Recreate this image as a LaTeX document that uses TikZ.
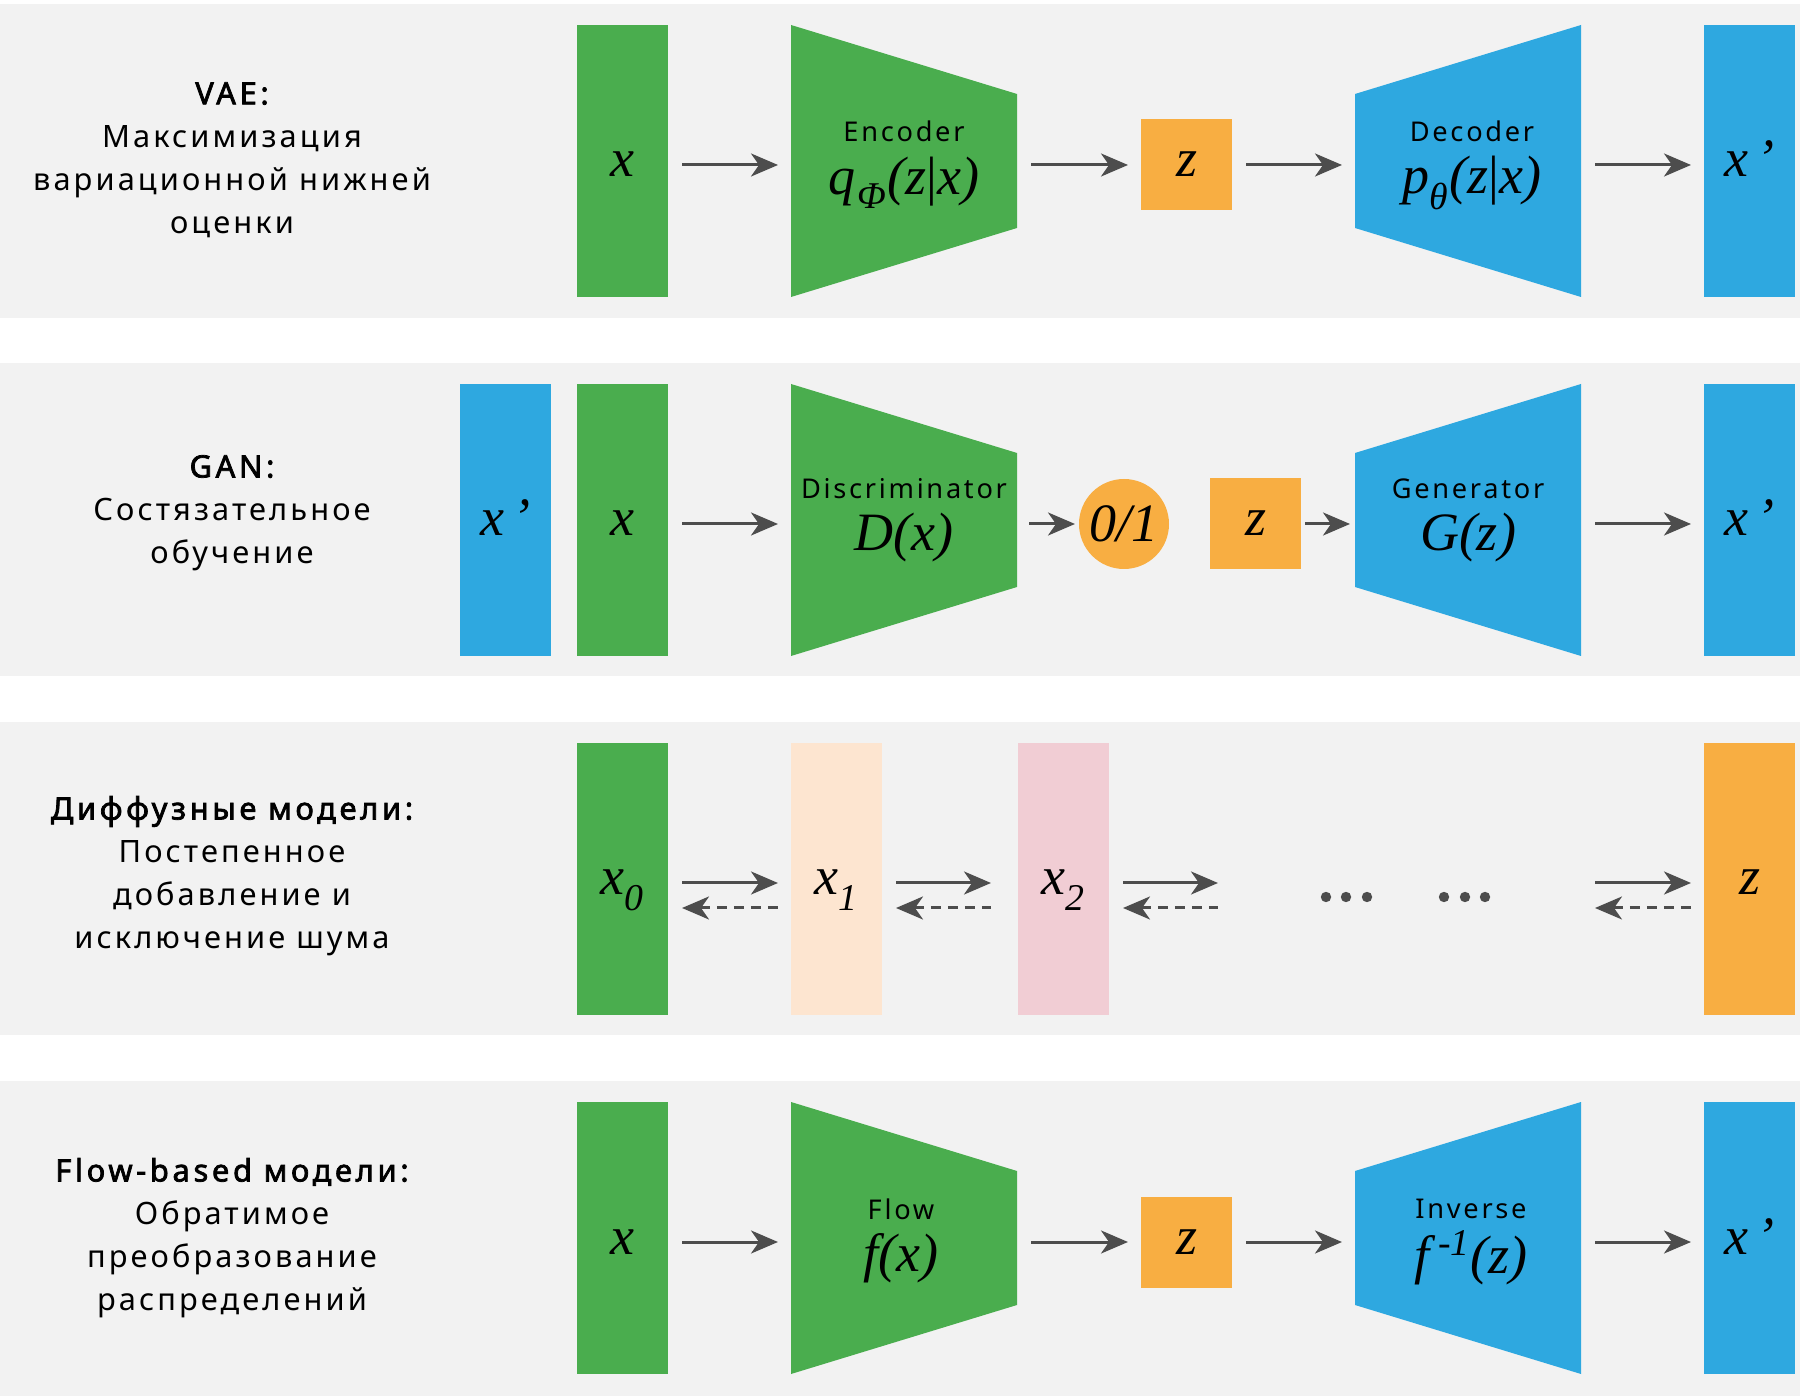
\documentclass[tikz,border=0pt]{standalone}
\usepackage{fontspec}
\setmainfont{Noto Sans}[LetterSpace=10]
\newfontfamily\titlefont{Noto Sans}[FakeBold=2.4, LetterSpace=12]
\newfontfamily\serif{Liberation Serif}
\usetikzlibrary{arrows.meta,positioning,calc}
\definecolor{cgreen}{HTML}{4AAD4E}
\definecolor{cblue}{HTML}{2EA8E0}
\definecolor{corange}{HTML}{F8AE42}
\definecolor{cpeach}{HTML}{FDE5D0}
\definecolor{cpink}{HTML}{F1CDD4}
\definecolor{cband}{HTML}{F2F2F2}
\definecolor{carrow}{HTML}{4D4D4D}
\newcommand\frmfont{\fontsize{27}{30}\serif\itshape}
\newcommand\hd[1]{{\titlefont #1}}
\tikzset{
    band/.style={fill=cband},
    bar/.style={minimum width=45.5pt, minimum height=136pt, inner sep=0pt, outer sep=0pt, font=\frmfont,
        text height=16pt, text depth=0pt},
    sq/.style={minimum size=45.5pt, inner sep=0pt, outer sep=0pt, fill=corange, font=\frmfont,
        text height=12pt, text depth=0pt},
    trap/.style={minimum width=113pt, minimum height=136pt, inner sep=0pt, outer sep=0pt},
    lbl/.style={font=\fontsize{13.6}{15}\selectfont, inner sep=0pt},
    fml/.style={font=\frmfont, inner sep=0pt},
    title/.style={align=center, font=\fontsize{15.4}{21.5}\selectfont},
    tip/.style={-{Stealth[length=13.5pt, width=11.5pt, inset=4pt]}},
    arr/.style={draw=carrow, line width=1.5pt, tip, shorten <=7pt, shorten >=6.5pt},
    back/.style={draw=carrow, line width=1.5pt, {Stealth[length=13.5pt, width=11.5pt, inset=4pt]}-,
        dash pattern=on 5pt off 3.5pt, shorten <=7pt, shorten >=6.5pt}
}
\begin{document}
\begin{tikzpicture}[x=0.5pt, y=-0.5pt]
    \useasboundingbox (0,0) rectangle (1800,1400);
    \fill[white] (0,0) rectangle (1800,1400);

    % VAE
    \fill[band] (0,4) rectangle (1800,318);
    \node[title] (tvae) at (232,160) {\hd{VAE:}\\Максимизация\\вариационной нижней\\оценки};
    \node[bar, fill=cgreen] (vx) at (622.5,161) {x};
    \node[trap] (venc) at (904,161) {};
    \fill[cgreen] (venc.north west) -- ([yshift=-34.5pt]venc.north east) -- ([yshift=34.5pt]venc.south east) -- (venc.south west) -- cycle;
    \node[lbl] at (904,131) {Encoder};
    \node[fml] at (904,183) {q\raisebox{-3pt}{\textsubscript{\kern1pt Φ}}({z}{\upshape|}x)};
    \node[sq] (vz) at (1186.5,165) {z};
    \node[trap] (vdec) at (1468,161) {};
    \fill[cblue] ([yshift=-34.5pt]vdec.north west) -- (vdec.north east) -- (vdec.south east) -- ([yshift=34.5pt]vdec.south west) -- cycle;
    \node[lbl] at (1472,131) {Decoder};
    \node[fml] at (1472,183) {p\raisebox{-3pt}{\textsubscript{θ}}(z{\upshape|}x)};
    \node[bar, fill=cblue] (vxr) at (1749.5,161) {x\smash{\,’}};

    \draw[arr] ([yshift=-2pt]vx.east) -- ([yshift=-2pt]venc.west);
    \draw[arr] ([yshift=-2pt]venc.east) -- (vz.west);
    \draw[arr] (vz.east) -- ([yshift=-2pt]vdec.west);
    \draw[arr] ([yshift=-2pt]vdec.east) -- ([yshift=-2pt]vxr.west);

    % GAN
    \fill[band] (0,363) rectangle (1800,676);
    \node[title] (tgan) at (232,513) {\hd{GAN:}\\Состязательное\\обучение};
    \node[bar, fill=cblue] (gxr) at (505.5,520) {x\smash{\,’}};
    \node[bar, fill=cgreen] (gx) at (622.5,520) {x};
    \node[trap] (gdis) at (904,520) {};
    \fill[cgreen] (gdis.north west) -- ([yshift=-34.5pt]gdis.north east) -- ([yshift=34.5pt]gdis.south east) -- (gdis.south west) -- cycle;
    \node[lbl] at (904,489) {Discriminator};
    \node[fml] at (904,538) {D(x)};
    \node[circle, fill=corange, minimum size=45pt, inner sep=0pt, outer sep=0pt, font=\frmfont] (gout) at (1124,524) {0/1};
    \node[sq] (gz) at (1255.5,524) {z};
    \node[trap] (ggen) at (1468,520) {};
    \fill[cblue] ([yshift=-34.5pt]ggen.north west) -- (ggen.north east) -- (ggen.south east) -- ([yshift=34.5pt]ggen.south west) -- cycle;
    \node[lbl] at (1468,489) {Generator};
    \node[fml] at (1468,538) {G(z)};
    \node[bar, fill=cblue] (gxo) at (1749.5,520) {x\smash{\,’}};

    \draw[arr] ([yshift=-2pt]gx.east) -- ([yshift=-2pt]gdis.west);
    \draw[arr, shorten <=6pt, shorten >=2pt] ([yshift=-2pt]gdis.east) -- (gout.west);
    \draw[arr, shorten <=2pt, shorten >=2.5pt] (gz.east) -- ([yshift=-2pt]ggen.west);
    \draw[arr] ([yshift=-2pt]ggen.east) -- ([yshift=-2pt]gxo.west);

    % diffusion
    \fill[band] (0,722) rectangle (1800,1035);
    \node[title] (tdif) at (232,876) {\hd{Диффузные модели:}\\Постепенное\\добавление и\\исключение шума};
    \node[bar, fill=cgreen] (dx0) at (622.5,879) {x\raisebox{-4pt}{\textsubscript{0}}};
    \node[bar, fill=cpeach] (dx1) at (836.5,879) {x\raisebox{-4pt}{\textsubscript{1}}};
    \node[bar, fill=cpink] (dx2) at (1063.5,879) {x\raisebox{-4pt}{\textsubscript{2}}};
    \node[bar, fill=corange] (dz) at (1749.5,879) {z};
    \coordinate (d3) at (1218,879);
    \coordinate (d4) at (1595,879);

    \draw[arr] ([yshift=-2pt]dx0.east) -- ([yshift=-2pt]dx1.west);
    \draw[arr, shorten >=13.5pt] ([yshift=-2pt]dx1.east) -- ([yshift=-2pt]dx2.west);
    \draw[arr, shorten >=0pt] ([yshift=-2pt]dx2.east) -- ([yshift=-2pt]d3);
    \draw[arr, shorten <=0pt] ([yshift=-2pt]d4) -- ([yshift=-2pt]dz.west);
    \draw[back] ([yshift=-14.5pt]dx0.east) -- ([yshift=-14.5pt]dx1.west);
    \draw[back, shorten >=13.5pt] ([yshift=-14.5pt]dx1.east) -- ([yshift=-14.5pt]dx2.west);
    \draw[back, shorten >=0pt] ([yshift=-14.5pt]dx2.east) -- ([yshift=-14.5pt]d3);
    \draw[back, shorten <=0pt] ([yshift=-14.5pt]d4) -- ([yshift=-14.5pt]dz.west);
    \foreach \dx in {1326,1346,1367,1444,1465,1485}
        \fill[carrow] (\dx,897) circle (2.6pt);

    % flow
    \fill[band] (0,1081) rectangle (1800,1396);
    \node[title] (tflow) at (232,1238) {\hd{Flow-based модели:}\\Обратимое\\преобразование\\распределений};
    \node[bar, fill=cgreen] (fx) at (622.5,1238) {x};
    \node[trap] (ffl) at (904,1238) {};
    \fill[cgreen] (ffl.north west) -- ([yshift=-34.5pt]ffl.north east) -- ([yshift=34.5pt]ffl.south east) -- (ffl.south west) -- cycle;
    \node[lbl] at (901,1209) {Flow};
    \node[fml] at (901,1258) {f(x)};
    \node[sq] (fz) at (1186.5,1242) {z};
    \node[trap] (finv) at (1468,1238) {};
    \fill[cblue] ([yshift=-34.5pt]finv.north west) -- (finv.north east) -- (finv.south east) -- ([yshift=34.5pt]finv.south west) -- cycle;
    \node[lbl] at (1471,1209) {Inverse};
    \node[fml] at (1471,1258) {f\,\textsuperscript{-1}(z)};
    \node[bar, fill=cblue] (fxr) at (1749.5,1238) {x\smash{\,’}};

    \draw[arr] ([yshift=-2pt]fx.east) -- ([yshift=-2pt]ffl.west);
    \draw[arr] ([yshift=-2pt]ffl.east) -- (fz.west);
    \draw[arr] (fz.east) -- ([yshift=-2pt]finv.west);
    \draw[arr] ([yshift=-2pt]finv.east) -- ([yshift=-2pt]fxr.west);
\end{tikzpicture}
\end{document}
